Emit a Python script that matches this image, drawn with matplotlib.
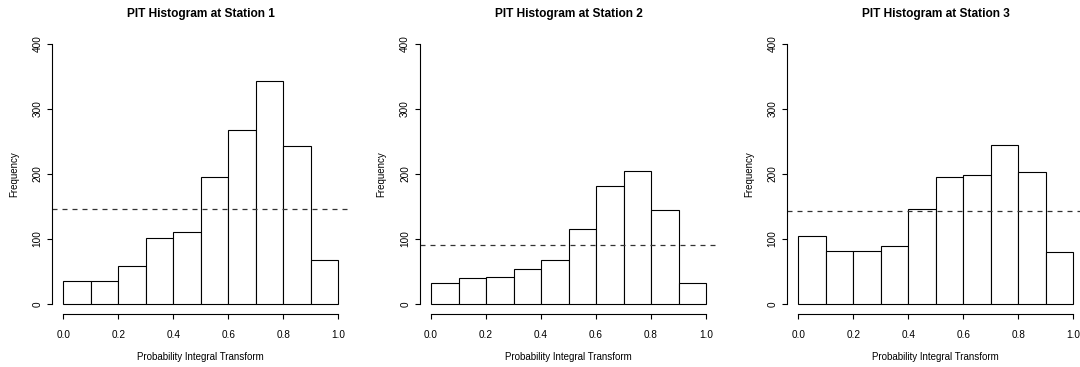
import numpy as np
import matplotlib
matplotlib.use('Agg')
import matplotlib.pyplot as plt

plt.rcParams['font.family'] = ['Liberation Sans', 'DejaVu Sans']

# PIT histogram counts per bin
breaks = [0.0, 0.1, 0.2, 0.3, 0.4, 0.5, 0.6, 0.7, 0.8, 0.9, 1.0]
station1 = [36, 36, 58, 101, 111, 195, 268, 343, 243, 68]
station2 = [32, 40, 41, 54, 68, 116, 181, 205, 145, 33]
station3 = [105, 82, 82, 89, 146, 195, 198, 244, 203, 80]
stations = [station1, station2, station3]
titles = ['PIT Histogram at Station 1', 'PIT Histogram at Station 2', 'PIT Histogram at Station 3']
xticks = [0.0, 0.2, 0.4, 0.6, 0.8, 1.0]
yticks = [0, 100, 200, 300, 400]

W, H = 1080, 367
fig = plt.figure(figsize=(W/100., H/100.), dpi=100, facecolor='w')

lefts = [52.3, 420.0, 787.3]   # plot region left edge, pixels
pw, top, bot = 297.0, 33.6, 314.4

for i in range(3):
	ax = fig.add_axes([lefts[i]/W, (H-bot)/H, pw/W, (bot-top)/H])
	counts = stations[i]
	ax.bar(breaks[:-1], counts, width=np.diff(breaks), align='edge',
	       facecolor='white', edgecolor='black', linewidth=0.8)
	# expected frequency under uniformity
	ax.axhline(sum(counts)/float(len(counts)), color='#333333', lw=0.9, dashes=(4, 4))

	ax.set_xlim(-0.04, 1.04)
	ax.set_ylim(-16, 416)
	ax.spines['top'].set_visible(False)
	ax.spines['right'].set_visible(False)
	ax.spines['bottom'].set_bounds(0, 1)
	ax.spines['left'].set_bounds(0, 400)
	for s in ('bottom', 'left'):
		ax.spines[s].set_linewidth(0.8)
	ax.set_xticks(xticks)
	ax.set_xticklabels(['%.1f' % v for v in xticks])
	ax.set_yticks(yticks)
	ax.set_yticklabels([str(v) for v in yticks], rotation=90, va='center')
	ax.tick_params(direction='out', length=3.6, width=0.8, labelsize=7.2)
	ax.tick_params(axis='x', pad=7.5)
	ax.tick_params(axis='y', pad=3.5)

	ax.set_xlabel('Probability Integral Transform', fontsize=7.0, va='center')
	ax.xaxis.set_label_coords(0.5, -42.6/(bot-top))
	ax.set_ylabel('Frequency', fontsize=7.0, va='center')
	ax.yaxis.set_label_coords(-38.3/pw, 0.5)
	ax.text(0.5, 1 + 19.6/(bot-top), titles[i], transform=ax.transAxes,
	        ha='center', va='center', fontsize=8.6, fontweight='bold')

fig.savefig('out.png', dpi=100)
